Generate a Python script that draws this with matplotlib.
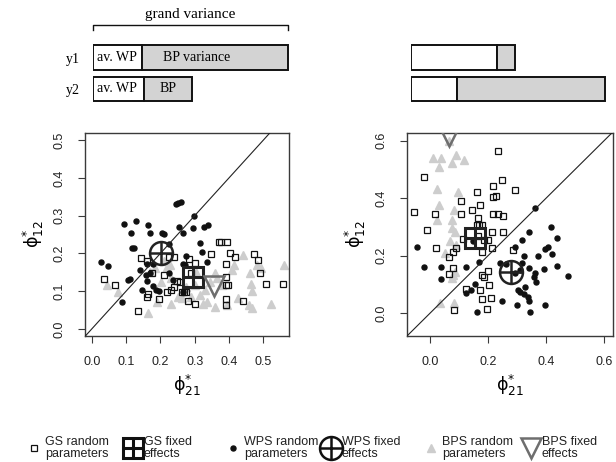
import matplotlib
matplotlib.use('Agg')
import matplotlib.pyplot as plt
from matplotlib.lines import Line2D

# ---------------- data ----------------
rows = ['y1', 'y2']
left_wp = [1.00, 1.04]
left_bp = [2.98, 0.98]
right_wp = [1.76, 0.94]
right_bp = [0.37, 3.02]

# left panel
L_gs_x = [0.035, 0.067, 0.135, 0.142, 0.160, 0.160, 0.163, 0.175, 0.196, 0.211, 0.220, 0.225, 0.240,
          0.232, 0.239, 0.249, 0.257, 0.264, 0.268, 0.274, 0.279, 0.283, 0.288, 0.301, 0.301, 0.347,
          0.372, 0.376, 0.393, 0.390, 0.390, 0.390, 0.398, 0.390, 0.390, 0.403, 0.417, 0.440, 0.473,
          0.486, 0.490, 0.509, 0.558]
L_gs_y = [0.132, 0.115, 0.046, 0.189, 0.180, 0.085, 0.091, 0.147, 0.078, 0.142, 0.098, 0.191, 0.191,
          0.102, 0.111, 0.127, 0.125, 0.098, 0.098, 0.098, 0.074, 0.186, 0.147, 0.175, 0.065, 0.198,
          0.231, 0.229, 0.229, 0.173, 0.138, 0.116, 0.116, 0.078, 0.064, 0.201, 0.191, 0.073, 0.198,
          0.182, 0.147, 0.118, 0.118]
L_wps_x = [0.026, 0.048, 0.094, 0.130, 0.164, 0.114, 0.169, 0.206, 0.210, 0.118, 0.124, 0.245, 0.252,
           0.259, 0.255, 0.298, 0.294, 0.266, 0.328, 0.339, 0.315, 0.322, 0.276, 0.224, 0.140, 0.161,
           0.158, 0.171, 0.105, 0.112, 0.089, 0.146, 0.179, 0.196, 0.225, 0.237, 0.267, 0.273, 0.335,
           0.265, 0.179, 0.186, 0.160]
L_wps_y = [0.177, 0.166, 0.279, 0.285, 0.275, 0.254, 0.253, 0.255, 0.251, 0.215, 0.214, 0.330, 0.334,
           0.336, 0.269, 0.299, 0.268, 0.254, 0.270, 0.276, 0.228, 0.204, 0.193, 0.226, 0.157, 0.171,
           0.142, 0.147, 0.129, 0.132, 0.071, 0.102, 0.113, 0.100, 0.147, 0.129, 0.173, 0.170, 0.178,
           0.098, 0.173, 0.103, 0.128]
L_bps_x = [0.043, 0.077, 0.163, 0.189, 0.231, 0.201, 0.228, 0.262, 0.442, 0.415, 0.461, 0.481, 0.493,
           0.561, 0.464, 0.466, 0.459, 0.466, 0.522, 0.425, 0.359, 0.364, 0.408, 0.300, 0.315, 0.330,
           0.359, 0.393, 0.325, 0.335, 0.276, 0.218, 0.185, 0.250, 0.290, 0.345, 0.232, 0.210, 0.170,
           0.305, 0.380]
L_bps_y = [0.116, 0.098, 0.042, 0.072, 0.067, 0.125, 0.169, 0.081, 0.195, 0.169, 0.147, 0.169, 0.160,
           0.169, 0.118, 0.100, 0.063, 0.056, 0.065, 0.081, 0.147, 0.134, 0.156, 0.116, 0.089, 0.103,
           0.058, 0.063, 0.067, 0.072, 0.111, 0.164, 0.160, 0.085, 0.085, 0.125, 0.135, 0.180, 0.150,
           0.150, 0.115]
L_fixed_gs = (0.296, 0.138)
L_fixed_wps = (0.203, 0.201)
L_fixed_bps = (0.355, 0.113)

# right panel
R_gs_x = [-0.055, -0.020, -0.011, 0.017, 0.021, 0.067, 0.067, 0.078, 0.078, 0.090, 0.084, 0.107, 0.107,
          0.124, 0.144, 0.161, 0.172, 0.164, 0.161, 0.170, 0.178, 0.115, 0.178, 0.172, 0.178, 0.186,
          0.178, 0.198, 0.201, 0.205, 0.210, 0.215, 0.215, 0.218, 0.228, 0.218, 0.216, 0.236, 0.253,
          0.236, 0.247, 0.253, 0.285, 0.293, 0.199, 0.185, 0.165]
R_gs_y = [0.353, 0.475, 0.290, 0.344, 0.226, 0.197, 0.137, 0.156, 0.212, 0.226, 0.012, 0.392, 0.344,
          0.085, 0.359, 0.423, 0.377, 0.330, 0.307, 0.307, 0.307, 0.257, 0.214, 0.081, 0.133, 0.127,
          0.049, 0.014, 0.148, 0.098, 0.052, 0.226, 0.284, 0.403, 0.408, 0.443, 0.345, 0.345, 0.340,
          0.564, 0.463, 0.284, 0.220, 0.429, 0.255, 0.255, 0.270]
R_wps_x = [-0.043, -0.020, 0.038, 0.038, 0.126, 0.124, 0.140, 0.155, 0.161, 0.170, 0.149, 0.249, 0.262,
           0.293, 0.299, 0.302, 0.310, 0.316, 0.318, 0.324, 0.328, 0.341, 0.343, 0.339, 0.343, 0.345,
           0.359, 0.362, 0.364, 0.362, 0.374, 0.394, 0.397, 0.406, 0.397, 0.416, 0.420, 0.437, 0.437,
           0.477, 0.293, 0.310, 0.240, 0.325]
R_wps_y = [0.229, 0.162, 0.160, 0.119, 0.162, 0.072, 0.081, 0.102, 0.006, 0.180, 0.253, 0.041, 0.171,
           0.232, 0.029, 0.081, 0.075, 0.174, 0.255, 0.199, 0.093, 0.284, 0.156, 0.058, 0.041, 0.006,
           0.127, 0.139, 0.110, 0.365, 0.199, 0.153, 0.222, 0.232, 0.029, 0.301, 0.205, 0.263, 0.165,
           0.131, 0.139, 0.150, 0.175, 0.068]
R_bps_x = [0.011, 0.038, 0.032, 0.075, 0.090, 0.118, 0.026, 0.098, 0.032, 0.026, 0.083, 0.075, 0.075,
           0.086, 0.090, 0.052, 0.080, 0.075, 0.034, 0.083, 0.085, 0.070, 0.065]
R_bps_y = [0.539, 0.539, 0.510, 0.521, 0.550, 0.533, 0.432, 0.423, 0.377, 0.324, 0.359, 0.324, 0.295,
           0.284, 0.238, 0.209, 0.133, 0.122, 0.035, 0.035, 0.145, 0.250, 0.600]
R_fixed_gs = (0.157, 0.261)
R_fixed_wps = (0.279, 0.145)
R_fixed_bps = (0.066, 0.616)

L_xticks = [0.0, 0.1, 0.2, 0.3, 0.4, 0.5]
L_yticks = [0.0, 0.1, 0.2, 0.3, 0.4, 0.5]
R_xticks = [0.0, 0.2, 0.4, 0.6]
R_yticks = [0.0, 0.2, 0.4, 0.6]

# ---------------- style ----------------
plt.rcParams['font.family'] = ['Liberation Sans', 'DejaVu Sans']
plt.rcParams['mathtext.fontset'] = 'dejavusans'
SERIF = ['Liberation Serif', 'DejaVu Serif']
GRAY_TRI = '#cdcdcd'
GRAY_FIX = '#6e6e6e'
FRAME = '#3a3a3a'

W, H = 616, 462
fig = plt.figure(figsize=(W / 100, H / 100), dpi=100)


def fx(px):
    return px / W


def fy(py):
    return (H - py) / H


# ---------------- top variance bars ----------------
UNIT_PX = 49.0
TOP_W = 200


def top_axes(left_px):
    a = fig.add_axes([fx(left_px), fy(110), TOP_W / W, 110 / H])
    a.set_xlim(0, TOP_W / UNIT_PX)
    a.set_ylim(110 / 31.5 - 57.5 / 31.5, -57.5 / 31.5)
    for s in a.spines.values():
        s.set_visible(False)
    a.set_xticks([])
    a.patch.set_alpha(0)
    return a


pos = [0, 1]
axt1 = top_axes(93)
axt1.barh(pos, left_wp, height=0.79, color='white', edgecolor='#111111', lw=1.4)
axt1.barh(pos, left_bp, left=left_wp, height=0.79, color='#d3d3d3', edgecolor='#111111', lw=1.4)
axt1.set_yticks(pos)
axt1.set_yticklabels(rows, fontfamily=SERIF, fontsize=10)
axt1.tick_params(axis='y', length=0, pad=9.5)
for i in pos:
    axt1.text(0.08, i, 'av. WP', fontfamily=SERIF, fontsize=10, va='center', ha='left')
axt1.text(left_wp[0] + 0.43, 0, 'BP variance', fontfamily=SERIF, fontsize=10, va='center', ha='left')
axt1.text(left_wp[1] + left_bp[1] / 2, 1, 'BP', fontfamily=SERIF, fontsize=10, va='center', ha='center')
grand = left_wp[0] + left_bp[0]
yb, yt = -1.016, -0.873
axt1.plot([0, 0, grand, grand], [yt, yb, yb, yt], color='#111111', lw=1.0, clip_on=False)
axt1.text(grand / 2, -1.38, 'grand variance', fontfamily=SERIF, fontsize=11, ha='center', va='center')

axt2 = top_axes(411)
axt2.barh(pos, right_wp, height=0.79, color='white', edgecolor='#111111', lw=1.4)
axt2.barh(pos, right_bp, left=right_wp, height=0.79, color='#d3d3d3', edgecolor='#111111', lw=1.4)
axt2.set_yticks([])

# ---------------- scatter panels ----------------


def panel(left_px, right_px, xlim, ylim, xt, yt_, gsx, gsy, wx, wy, bx, by, fgs, fwps, fbps):
    a = fig.add_axes([fx(left_px), fy(336), (right_px - left_px) / W, 203 / H])
    a.set_xlim(*xlim)
    a.set_ylim(*ylim)
    a.plot(bx, by, linestyle='none', marker='^', ms=6, color=GRAY_TRI, mec=GRAY_TRI, zorder=2)
    a.plot(gsx, gsy, linestyle='none', marker='s', ms=5, fillstyle='none', mec='#111111', mew=0.9, zorder=3)
    a.plot(wx, wy, linestyle='none', marker='o', ms=3.6, color='#111111', mec='#111111', zorder=3)
    a.axline((0, 0), slope=1, color='#222222', lw=0.8, zorder=4)
    a.plot([fgs[0]], [fgs[1]], linestyle='none', marker='s', ms=14.4, fillstyle='none', mec='#222222', mew=2.2, zorder=5)
    a.plot([fgs[0]], [fgs[1]], linestyle='none', marker='+', ms=14.4, mec='#222222', mew=2.2, zorder=5)
    a.plot([fwps[0]], [fwps[1]], linestyle='none', marker='o', ms=16.5, fillstyle='none', mec='#222222', mew=1.8, zorder=5)
    a.plot([fwps[0]], [fwps[1]], linestyle='none', marker='+', ms=16.5, mec='#222222', mew=1.8, zorder=5)
    a.plot([fbps[0]], [fbps[1]], linestyle='none', marker='v', ms=14, fillstyle='none', mec=GRAY_FIX, mew=1.8, zorder=5)
    a.set_xticks(xt)
    a.set_yticks(yt_)
    a.set_xticklabels([f'{v:.1f}' for v in xt])
    a.set_yticklabels([f'{v:.1f}' for v in yt_], rotation=90, va='center')
    a.tick_params(direction='out', length=4.7, width=0.8, color=FRAME, labelsize=9, pad=9.5, labelcolor='#222222')
    for s in a.spines.values():
        s.set_color(FRAME)
        s.set_linewidth(1.0)
    a.set_xlabel(r'$\mathrm{\phi}^{*}_{21}$', fontsize=12.5, labelpad=4)
    a.set_ylabel(r'$\mathrm{\phi}^{*}_{12}$', fontsize=12.5, labelpad=5)
    return a


axL = panel(85, 289, (-0.02, 0.575), (-0.019, 0.519), L_xticks, L_yticks,
            L_gs_x, L_gs_y, L_wps_x, L_wps_y, L_bps_x, L_bps_y, L_fixed_gs, L_fixed_wps, L_fixed_bps)
axR = panel(407, 613, (-0.079, 0.631), (-0.079, 0.627), R_xticks, R_yticks,
            R_gs_x, R_gs_y, R_wps_x, R_wps_y, R_bps_x, R_bps_y, R_fixed_gs, R_fixed_wps, R_fixed_bps)

# ---------------- legend ----------------
h_gs = Line2D([], [], linestyle='none', marker='s', ms=5, fillstyle='none', mec='#111111', mew=0.9)
h_gsf = (Line2D([], [], linestyle='none', marker='s', ms=14.4, fillstyle='none', mec='#111111', mew=2.2),
         Line2D([], [], linestyle='none', marker='+', ms=14.4, mec='#111111', mew=2.2))
h_wps = Line2D([], [], linestyle='none', marker='o', ms=3.6, color='#111111')
h_wpsf = (Line2D([], [], linestyle='none', marker='o', ms=16.5, fillstyle='none', mec='#111111', mew=1.8),
          Line2D([], [], linestyle='none', marker='+', ms=16.5, mec='#111111', mew=1.8))
h_bps = Line2D([], [], linestyle='none', marker='^', ms=6, color=GRAY_TRI)
h_bpsf = Line2D([], [], linestyle='none', marker='v', ms=15, fillstyle='none', mec=GRAY_FIX, mew=1.8)

entries = [
    (h_gs, 'GS random\nparameters', 34),
    (h_gsf, 'GS fixed\neffects', 133),
    (h_wps, 'WPS random\nparameters', 233),
    (h_wpsf, 'WPS fixed\neffects', 331),
    (h_bps, 'BPS random\nparameters', 431),
    (h_bpsf, 'BPS fixed\neffects', 531),
]
for h, lab, cx in entries:
    leg = fig.legend([h], [lab], loc='center left', bbox_to_anchor=(fx(cx - 6.25), fy(448)),
                     frameon=False, fontsize=9, handlelength=1.0, handletextpad=0.38,
                     borderpad=0, borderaxespad=0)
    for t in leg.get_texts():
        t.set_linespacing(1.05)
        t.set_color('#222222')

fig.savefig('out.png', dpi=100)
